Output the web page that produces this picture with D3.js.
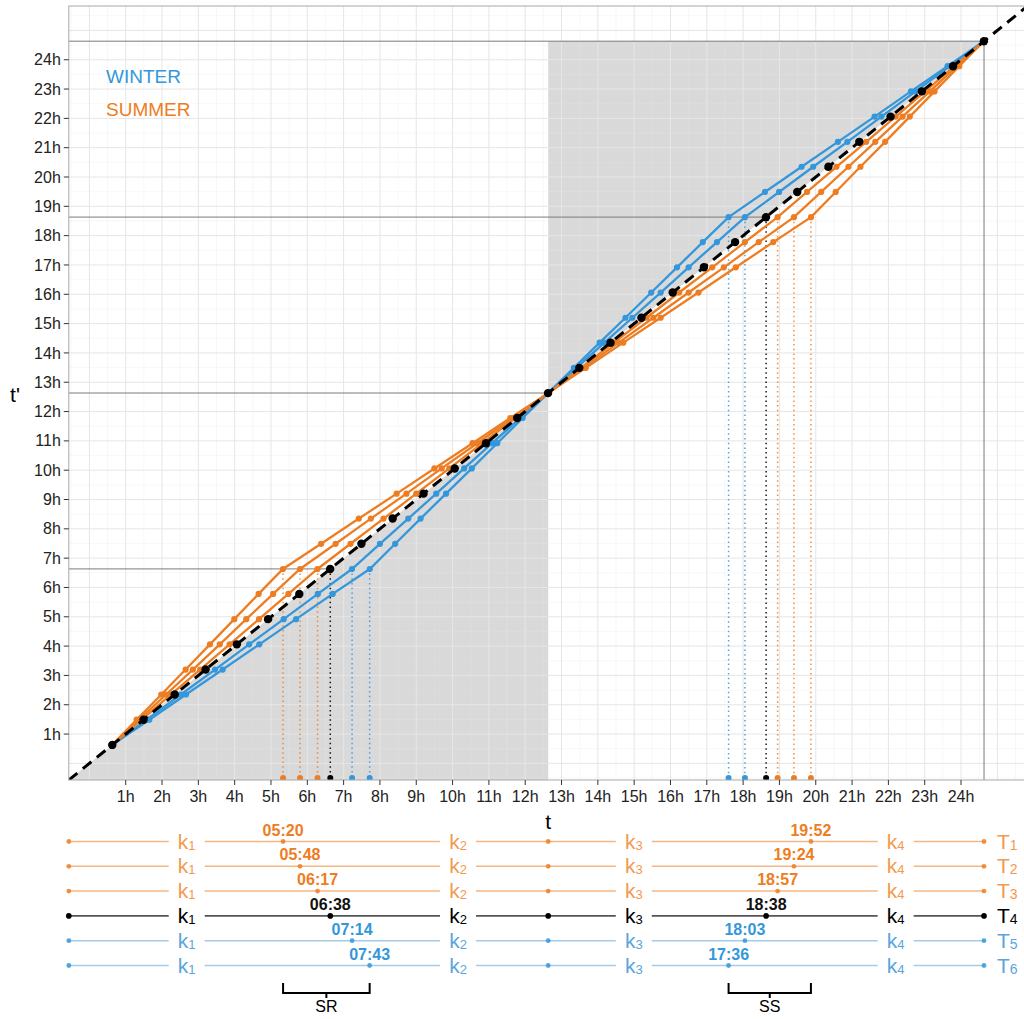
<!DOCTYPE html>
<html><head><meta charset="utf-8">
<script src="https://cdn.jsdelivr.net/npm/d3@7"></script>
<style>body{margin:0;background:#fff}svg{display:block}</style>
</head><body><svg id="c" width="1024" height="1019"></svg>
<script>
// ---------- DATA ----------
const seriesNames = ["T1","T2","T3","T4","T5","T6"];
const seriesGroup = ["summer","summer","summer","equinox","winter","winter"];
const sunriseH = [5.333, 5.800, 6.283, 6.633, 7.233, 7.717];
const sunsetH  = [19.867, 19.400, 18.950, 18.633, 18.050, 17.600];
const sunriseLabels = ["05:20","05:48","06:17","06:38","07:14","07:43"];
const sunsetLabels  = ["19:52","19:24","18:57","18:38","18:03","17:36"];
// shared t' levels of the plotted points
const tPrime = [0.63,1.49,2.35,3.20,4.06,4.92,5.78,6.63,7.49,8.35,9.20,10.06,10.92,11.78,12.63,
                13.49,14.35,15.20,16.06,16.92,17.78,18.63,19.49,20.35,21.20,22.06,22.92,23.78,24.63];
// t of each point, per series
const tT1 = [0.63,1.30,1.98,2.65,3.32,3.99,4.66,5.33,6.38,7.42,8.46,9.50,10.55,11.59,12.63,
             13.67,14.70,15.73,16.77,17.80,18.83,19.87,20.55,21.23,21.91,22.59,23.27,23.95,24.63];
const tT2 = [0.63,1.37,2.11,2.85,3.59,4.32,5.06,5.80,6.78,7.75,8.73,9.70,10.68,11.66,12.63,
             13.60,14.57,15.53,16.50,17.47,18.43,19.40,20.15,20.90,21.64,22.39,23.14,23.89,24.63];
const tT3 = [0.63,1.44,2.25,3.05,3.86,4.67,5.48,6.28,7.19,8.10,9.00,9.91,10.82,11.73,12.63,
             13.54,14.44,15.34,16.24,17.15,18.05,18.95,19.76,20.57,21.39,22.20,23.01,23.82,24.63];
const tT4 = [0.63,1.49,2.35,3.20,4.06,4.92,5.78,6.63,7.49,8.35,9.20,10.06,10.92,11.78,12.63,
             13.49,14.35,15.20,16.06,16.92,17.78,18.63,19.49,20.35,21.20,22.06,22.92,23.78,24.63];
const tT5 = [0.63,1.58,2.52,3.46,4.40,5.35,6.29,7.23,8.00,8.78,9.55,10.32,11.09,11.86,12.63,
             13.41,14.18,14.95,15.73,16.50,17.28,18.05,18.99,19.93,20.87,21.81,22.75,23.69,24.63];
const tT6 = [0.63,1.65,2.66,3.67,4.68,5.69,6.70,7.72,8.42,9.12,9.82,10.53,11.23,11.93,12.63,
             13.34,14.05,14.76,15.47,16.18,16.89,17.60,18.60,19.61,20.61,21.62,22.62,23.63,24.63];
const seriesT = [tT1,tT2,tT3,tT4,tT5,tT6];
const refLevels = [6.633, 12.633, 18.633, 24.633];
const dayMid = 12.633, dayEnd = 24.633;
const hourTicks = [1,2,3,4,5,6,7,8,9,10,11,12,13,14,15,16,17,18,19,20,21,22,23,24];
const hourLabels = hourTicks.map(h => h + "h");
const kNames = ["1","2","3","4"];
const kPos = [2.68, 10.15, 14.99, 22.20];

// ---------- STYLE ----------
const FONT = "'Liberation Sans', Arial, Helvetica, sans-serif";
const colMain = {summer:"#EE7D22", equinox:"#000000", winter:"#3497DB"};
const colRow  = {summer:"#F5B682", equinox:"#555555", winter:"#A3CBEA"};
const colK    = {summer:"#F29A4E", equinox:"#000000", winter:"#5AA5DB"};

const svg = d3.select("#c");
svg.append("rect").attr("width",1024).attr("height",1019).attr("fill","#fff");

const x = d3.scaleLinear().domain([-0.567, 25.833]).range([68.8, 1027.6]);
const y = d3.scaleLinear().domain([-0.567, 25.833]).range([780, 6]);
const [x0, x1] = x.range(), [y0, y1] = y.range();

svg.append("clipPath").attr("id","pc").append("rect")
  .attr("x",x0).attr("y",y1).attr("width",x1-x0).attr("height",y0-y1);
const P = svg.append("g").attr("clip-path","url(#pc)");

// gray regions
const grayPolys = [
  [[x.domain()[0], y.domain()[0]], [dayMid, dayMid], [dayMid, y.domain()[0]]],
  [[dayMid, dayMid], [dayMid, dayEnd], [dayEnd, dayEnd]]
];
P.selectAll("path.gray").data(grayPolys).enter().append("path")
  .attr("d", d => "M" + d.map(p => [x(p[0]), y(p[1])].join(",")).join("L") + "Z")
  .attr("fill","#d9d9d9");

// grid
const minor = d3.range(-0.5, 26, 1), major = d3.range(0, 26, 1);
const G = P.append("g");
G.selectAll("line.vm").data(minor).enter().append("line")
  .attr("x1",d=>x(d)).attr("x2",d=>x(d)).attr("y1",y0).attr("y2",y1)
  .attr("stroke","#e6e6e6").attr("stroke-opacity",0.5).attr("stroke-width",0.6);
G.selectAll("line.hm").data(minor).enter().append("line")
  .attr("y1",d=>y(d)).attr("y2",d=>y(d)).attr("x1",x0).attr("x2",x1)
  .attr("stroke","#e6e6e6").attr("stroke-opacity",0.5).attr("stroke-width",0.6);
G.selectAll("line.vM").data(major).enter().append("line")
  .attr("x1",d=>x(d)).attr("x2",d=>x(d)).attr("y1",y0).attr("y2",y1)
  .attr("stroke","#e6e6e6").attr("stroke-width",1);
G.selectAll("line.hM").data(major).enter().append("line")
  .attr("y1",d=>y(d)).attr("y2",d=>y(d)).attr("x1",x0).attr("x2",x1)
  .attr("stroke","#e6e6e6").attr("stroke-width",1);

// reference lines
P.selectAll("line.ref").data(refLevels).enter().append("line")
  .attr("x1",x0).attr("x2",d=>x(d)).attr("y1",d=>y(d)).attr("y2",d=>y(d))
  .attr("stroke","#7a7a7a").attr("stroke-width",1);
P.append("line").attr("x1",x(dayEnd)).attr("x2",x(dayEnd)).attr("y1",y(dayEnd)).attr("y2",y0)
  .attr("stroke","#7a7a7a").attr("stroke-width",1);

// dotted drops at sunrise / sunset
const bottomY = -0.5;
const drops = [];
seriesNames.forEach((s,i) => {
  drops.push({g:seriesGroup[i], t:sunriseH[i], lv:refLevels[0]});
  drops.push({g:seriesGroup[i], t:sunsetH[i], lv:refLevels[2]});
});
P.selectAll("line.drop").data(drops).enter().append("line")
  .attr("x1",d=>x(d.t)).attr("x2",d=>x(d.t)).attr("y1",d=>y(d.lv)).attr("y2",y(bottomY))
  .attr("stroke",d=>colMain[d.g]).attr("stroke-width",1.5).attr("stroke-dasharray","1.5,3.2")
  .attr("stroke-opacity",d=>d.g==="equinox"?0.9:0.85);
P.selectAll("circle.drop").data(drops).enter().append("circle")
  .attr("cx",d=>x(d.t)).attr("cy",y(bottomY)).attr("r",3).attr("fill",d=>colMain[d.g]);

// series lines + points
const line = d3.line().x(d=>x(d[0])).y(d=>y(d[1]));
const order = [4,5,0,1,2];
order.forEach(i => {
  const pts = seriesT[i].map((t,k) => [t, tPrime[k]]);
  P.append("path").attr("d", line(pts)).attr("fill","none")
    .attr("stroke",colMain[seriesGroup[i]]).attr("stroke-width",2.3);
  P.selectAll(null).data(pts).enter().append("circle")
    .attr("cx",d=>x(d[0])).attr("cy",d=>y(d[1])).attr("r",3.1)
    .attr("fill",colMain[seriesGroup[i]]);
});
// identity dashed line
P.append("line").attr("x1",x(x.domain()[0])).attr("y1",y(y.domain()[0]))
  .attr("x2",x(x.domain()[1])).attr("y2",y(y.domain()[1]))
  .attr("stroke","#000").attr("stroke-width",3).attr("stroke-dasharray","11,7");
// T4 points
P.selectAll("circle.eq").data(tT4.map((t,k)=>[t,tPrime[k]])).enter().append("circle")
  .attr("cx",d=>x(d[0])).attr("cy",d=>y(d[1])).attr("r",4.2).attr("fill","#000");

// panel border
svg.append("rect").attr("x",x0).attr("y",y1).attr("width",x1-x0).attr("height",y0-y1)
  .attr("fill","none").attr("stroke","#a8a8a8").attr("stroke-width",1);

// axes
const AX = svg.append("g").attr("font-family",FONT);
AX.selectAll("line.xt").data(hourTicks).enter().append("line")
  .attr("x1",d=>x(d)).attr("x2",d=>x(d)).attr("y1",y0).attr("y2",y0+5)
  .attr("stroke","#333").attr("stroke-width",1);
AX.selectAll("text.xt").data(hourTicks).enter().append("text")
  .attr("x",d=>x(d)).attr("y",802).attr("text-anchor","middle")
  .attr("font-size",16).attr("fill","#222").text((d,i)=>hourLabels[i]);
AX.selectAll("line.yt").data(hourTicks).enter().append("line")
  .attr("x1",x0-5).attr("x2",x0).attr("y1",d=>y(d)).attr("y2",d=>y(d))
  .attr("stroke","#333").attr("stroke-width",1);
AX.selectAll("text.yt").data(hourTicks).enter().append("text")
  .attr("x",x0-8).attr("y",d=>y(d)+5.6).attr("text-anchor","end")
  .attr("font-size",16).attr("fill","#222").text((d,i)=>hourLabels[i]);
AX.append("text").attr("x",15).attr("y",402).attr("text-anchor","middle")
  .attr("font-size",21).attr("fill","#000").text("t'");
AX.append("text").attr("x",(x0+x1)/2).attr("y",829).attr("text-anchor","middle")
  .attr("font-size",21).attr("fill","#000").text("t");

// season labels
AX.append("text").attr("x",106).attr("y",83).attr("font-size",19)
  .attr("fill",colMain.winter).text("WINTER");
AX.append("text").attr("x",106).attr("y",116).attr("font-size",19)
  .attr("fill",colMain.summer).text("SUMMER");

// ---------- schematic rows ----------
const S = svg.append("g").attr("font-family",FONT);
const rowY = i => 841.5 + i*24.8;
seriesNames.forEach((s,i) => {
  const g = seriesGroup[i], yy = rowY(i);
  S.append("line").attr("x1",x(x.domain()[0])).attr("x2",x(dayEnd)).attr("y1",yy).attr("y2",yy)
    .attr("stroke",colRow[g]).attr("stroke-width",g==="equinox"?1.6:1.5);
  kPos.forEach((kp,j) => {
    S.append("rect").attr("x",x(kp)-18).attr("y",yy-10).attr("width",36).attr("height",20).attr("fill","#fff");
    const t = S.append("text").attr("x",x(kp)).attr("y",yy+7).attr("text-anchor","middle")
      .attr("fill",colK[g]);
    t.append("tspan").attr("font-size",21).text("k");
    t.append("tspan").attr("font-size",13).attr("dy",1).text(kNames[j]);
  });
  const dots = [x.domain()[0], sunriseH[i], dayMid, sunsetH[i], dayEnd];
  S.selectAll(null).data(dots).enter().append("circle")
    .attr("cx",d=>x(d)).attr("cy",yy).attr("r",g==="equinox"?2.8:2.4)
    .attr("fill",g==="equinox"?"#000":colMain[g]).attr("fill-opacity",g==="equinox"?1:0.85);
  [[sunriseH[i], sunriseLabels[i]],[sunsetH[i], sunsetLabels[i]]].forEach(([t,lab]) => {
    S.append("text").attr("x",x(t)).attr("y",yy-6).attr("text-anchor","middle")
      .attr("font-size",16).attr("font-weight","bold")
      .attr("fill",g==="equinox"?"#111":colMain[g]).text(lab);
  });
  const T = S.append("text").attr("x",x(dayEnd)+13).attr("y",yy+7).attr("fill",colK[g]);
  T.append("tspan").attr("font-size",21).text("T");
  T.append("tspan").attr("font-size",14).attr("dy",1).text(s.slice(1));
});

// brackets
function bracket(a, b, label) {
  const xa = x(a), xb = x(b), xm = (xa+xb)/2;
  S.append("path").attr("d",`M${xa},983 V993 H${xb} V983 M${xm},993 V998`)
    .attr("fill","none").attr("stroke","#000").attr("stroke-width",2);
  S.append("text").attr("x",xm).attr("y",1012).attr("text-anchor","middle")
    .attr("font-size",16).attr("fill","#000").text(label);
}
bracket(d3.min(sunriseH), d3.max(sunriseH), "SR");
bracket(d3.min(sunsetH), d3.max(sunsetH), "SS");
</script></body></html>
